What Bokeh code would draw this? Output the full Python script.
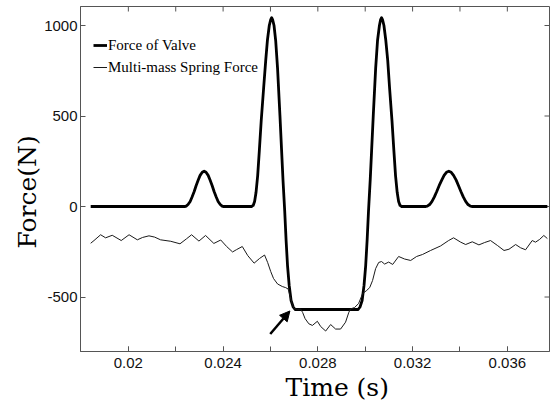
from bokeh.plotting import figure
from bokeh.models import (Range1d, FixedTicker, Arrow, NormalHead, Title,
                          Legend, LegendItem)
from bokeh.embed import file_html
from bokeh.resources import INLINE
import math

# ---------------- data ----------------
valve_t = [0.01841, 0.02240, 0.02244, 0.02252, 0.02261, 0.02269, 0.02278, 0.02286,
           0.02295, 0.02303, 0.02312, 0.02320, 0.02328, 0.02337, 0.02345, 0.02354,
           0.02362, 0.02371, 0.02379, 0.02388, 0.02396, 0.02400,
           0.02520, 0.02527, 0.02533, 0.02539, 0.02546, 0.02553, 0.02561, 0.02571,
           0.02580, 0.02587, 0.02595, 0.02601, 0.02605, 0.02609,
           0.02615, 0.02622, 0.02630, 0.02640, 0.02647, 0.02653, 0.02660, 0.02666,
           0.02672, 0.02679, 0.02687, 0.02696, 0.02704,
           0.02970, 0.02978, 0.02987, 0.02995, 0.03002, 0.03008, 0.03014, 0.03021,
           0.03027, 0.03034, 0.03044, 0.03052, 0.03060, 0.03065, 0.03069, 0.03073,
           0.03079, 0.03087, 0.03095, 0.03103, 0.03113, 0.03121, 0.03128, 0.03135,
           0.03141, 0.03147, 0.03154,
           0.03256, 0.03262, 0.03272, 0.03282, 0.03292, 0.03302, 0.03312, 0.03323,
           0.03333, 0.03343, 0.03353, 0.03363, 0.03373, 0.03384, 0.03394, 0.03404,
           0.03414, 0.03424, 0.03434, 0.03444, 0.03450, 0.03769]
valve_f = [0, 0, 2, 11, 28, 53, 83, 115,
           146, 172, 189, 195, 189, 172, 146, 115,
           83, 53, 28, 11, 2, 0,
           0, 6, 28, 77, 171, 309, 475, 652,
           807, 917, 1000, 1033, 1043, 1033,
           1000, 917, 762, 503, 309, 144, -22, -188,
           -326, -436, -519, -555, -569,
           -569, -555, -519, -436, -326, -188, -22, 144,
           309, 503, 762, 917, 1000, 1033, 1043, 1033,
           1000, 917, 807, 652, 475, 309, 171, 77,
           28, 6, 0,
           0, 2, 11, 28, 53, 83, 115, 146,
           172, 189, 195, 189, 172, 146, 115, 83,
           53, 28, 11, 2, 0, 0]

spring_t = [0.01841, 0.01855, 0.01883, 0.01904, 0.01932, 0.01970, 0.02003, 0.02038,
            0.02060, 0.02087, 0.02111, 0.02136, 0.02179, 0.02218, 0.02246, 0.02267,
            0.02298, 0.02326, 0.02361, 0.02390, 0.02415, 0.02440, 0.02457, 0.02481,
            0.02504, 0.02531, 0.02554, 0.02575, 0.02588, 0.02601, 0.02613, 0.02630,
            0.02650, 0.02664, 0.02675, 0.02683, 0.02691, 0.02700, 0.02715, 0.02727,
            0.02736, 0.02746, 0.02762, 0.02777, 0.02798, 0.02812, 0.02833, 0.02854,
            0.02875, 0.02896, 0.02917, 0.02931, 0.02938, 0.02955, 0.02972, 0.02989,
            0.03006, 0.03019, 0.03031, 0.03044, 0.03057, 0.03069, 0.03082, 0.03099,
            0.03116, 0.03141, 0.03166, 0.03192, 0.03217, 0.03242, 0.03276, 0.03318,
            0.03352, 0.03373, 0.03403, 0.03424, 0.03452, 0.03480, 0.03504, 0.03529,
            0.03558, 0.03586, 0.03607, 0.03635, 0.03656, 0.03677, 0.03705, 0.03719,
            0.03736, 0.03754, 0.03769]
spring_f = [-203, -188, -156, -173, -159, -188, -156, -184,
            -171, -162, -169, -184, -192, -206, -178, -156,
            -191, -160, -204, -185, -221, -251, -238, -221,
            -271, -313, -287, -268, -309, -359, -398, -428,
            -442, -448, -456, -497, -536, -564, -569, -566,
            -586, -619, -648, -657, -634, -663, -688, -652,
            -677, -677, -639, -584, -566, -558, -536, -481,
            -464, -448, -409, -343, -309, -304, -318, -307,
            -320, -276, -290, -298, -276, -265, -243, -218,
            -188, -173, -197, -210, -195, -212, -199, -188,
            -215, -243, -236, -210, -228, -239, -188, -197,
            -182, -160, -177]

series_names = ["Force of Valve", "Multi-mass Spring Force"]
x_ticks = [0.02, 0.024, 0.028, 0.032, 0.036]
x_minor_ticks = [0.02, 0.022, 0.024, 0.026, 0.028, 0.030, 0.032, 0.034, 0.036]
y_ticks = [-500, 0, 500, 1000]
y_tick_labels = {-500: "-500"}
x_lim = (0.01798, 0.03778)
y_lim = (-801, 1105)
arrow_start = (0.02599, -704)
arrow_end = (0.02682, -577)
x_title = "Time (s)"
y_title = "Force(N)"

# ---------------- figure ----------------
AX = "#555555"
p = figure(width=553, height=404, output_backend="svg", toolbar_location=None,
           x_range=Range1d(*x_lim), y_range=Range1d(*y_lim),
           min_border_left=80, min_border_right=4, min_border_top=6,
           min_border_bottom=53, background_fill_color="white",
           border_fill_color="white")
p.grid.visible = False
p.outline_line_color = AX
p.outline_line_width = 1

xt = FixedTicker(ticks=x_ticks, minor_ticks=x_minor_ticks)
yt = FixedTicker(ticks=y_ticks, minor_ticks=[])

for ax, tk in ((p.xaxis[0], xt), (p.yaxis[0], yt)):
    ax.ticker = tk
    ax.axis_line_color = AX
    ax.major_tick_line_color = AX
    ax.minor_tick_line_color = AX
    ax.major_tick_in = 5
    ax.major_tick_out = 0
    ax.minor_tick_in = 5
    ax.minor_tick_out = 0
    ax.major_label_text_font = "Liberation Sans"
    ax.major_label_text_font_size = "15px"
    ax.major_label_text_color = "#111111"
p.xaxis[0].major_label_standoff = 6
p.yaxis[0].major_label_standoff = 3
p.yaxis[0].minor_tick_line_color = None
p.yaxis[0].major_label_overrides = y_tick_labels

# inward ticks on the top and right edges of the box
p.ray(x=x_minor_ticks, y=[y_lim[1]] * len(x_minor_ticks), length=5,
      length_units="screen", angle=-math.pi / 2, line_color=AX, line_width=1)
p.ray(x=[x_lim[1]] * len(y_ticks), y=y_ticks, length=5,
      length_units="screen", angle=math.pi, line_color=AX, line_width=1)

r_valve = p.line(valve_t, valve_f, line_color="black", line_width=2.8,
                 line_join="round")
r_spring = p.line(spring_t, spring_f, line_color="#1a1a1a", line_width=1,
                  line_join="round")

p.add_layout(Arrow(end=NormalHead(size=10, fill_color="black", line_color="black"),
                   x_start=arrow_start[0], y_start=arrow_start[1],
                   x_end=arrow_end[0], y_end=arrow_end[1],
                   line_color="black", line_width=2.5))

legend = Legend(items=[LegendItem(label=series_names[0], renderers=[r_valve]),
                       LegendItem(label=series_names[1], renderers=[r_spring])],
                location=(13, 273), margin=0, padding=0, spacing=0,
                glyph_width=14, glyph_height=22, label_height=22,
                label_standoff=1, label_text_font="Liberation Serif",
                label_text_font_size="15px", label_text_color="black",
                border_line_alpha=0, background_fill_alpha=0)
p.add_layout(legend, "center")

p.add_layout(Title(text=x_title, align="left", offset=205, standoff=0,
                   text_font="DejaVu Serif", text_font_size="25px",
                   text_font_style="normal", text_color="black"), "below")
p.add_layout(Title(text=y_title, align="left", offset=103, standoff=0,
                   text_font="DejaVu Serif", text_font_size="25px",
                   text_font_style="normal", text_color="black"), "left")

open("out.html", "w").write(file_html(p, INLINE))
